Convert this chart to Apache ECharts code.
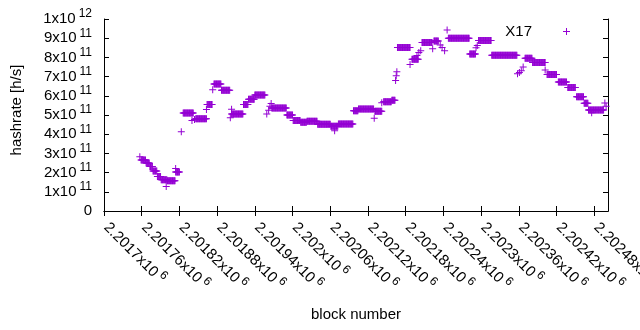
<!DOCTYPE html>
<html>
<head>
<meta charset="utf-8">
<script src="https://cdn.jsdelivr.net/npm/echarts@6/dist/echarts.min.js"></script>
<style>
html, body { margin: 0; padding: 0; background: #fff; }
#main { width: 640px; height: 330px; }
</style>
</head>
<body>
<div id="main"></div>
<script>
// runs of consecutive blocks that share one hashrate value (in 1e11 h/s)
var runFrom = [2201759, 2201767, 2201773, 2201778, 2201785, 2201791, 2201801, 2201814, 2201826, 2201846,
    2201864, 2201875, 2201887, 2201903, 2201922, 2201930, 2201940, 2201967, 2201991, 2202001,
    2202013, 2202023, 2202040, 2202061, 2202073, 2202097, 2202105, 2202131, 2202145, 2202158,
    2202167, 2202190, 2202206, 2202225, 2202248, 2202282, 2202296, 2202317, 2202370, 2202382,
    2202405, 2202423, 2202438, 2202452, 2202464, 2202471];
var runTo = [2201766, 2201772, 2201777, 2201784, 2201790, 2201800, 2201813, 2201820, 2201842, 2201863,
    2201872, 2201886, 2201900, 2201921, 2201929, 2201939, 2201956, 2201990, 2202000, 2202012,
    2202022, 2202039, 2202060, 2202072, 2202096, 2202104, 2202129, 2202142, 2202157, 2202163,
    2202187, 2202200, 2202222, 2202232, 2202281, 2202291, 2202316, 2202357, 2202381, 2202402,
    2202420, 2202436, 2202450, 2202463, 2202470, 2202495];
var runRate = [2.66, 2.50, 2.32, 2.08, 1.80, 1.63, 1.57, 2.03, 5.10, 4.80,
    5.55, 6.61, 6.29, 5.05, 5.55, 5.82, 6.04, 5.36, 5.00, 4.72,
    4.62, 4.68, 4.52, 4.42, 4.53, 5.22, 5.31, 5.19, 5.69, 5.77,
    8.52, 7.90, 8.77, 8.85, 9.00, 8.18, 8.88, 8.11, 7.95, 7.74,
    7.11, 6.72, 6.43, 5.95, 5.61, 5.26];

// single outlying blocks
var dotBlock = [2201757, 2201799, 2201814, 2201823, 2201840, 2201844, 2201863, 2201873, 2201901, 2201903,
    2201959, 2201962, 2201964, 2201966, 2202067, 2202130, 2202142, 2202164, 2202165, 2202166,
    2202187, 2202198, 2202201, 2202204, 2202223, 2202235, 2202238, 2202242, 2202246, 2202292,
    2202294, 2202358, 2202361, 2202364, 2202367, 2202402, 2202476, 2202497, 2202499];
var dotRate = [2.83, 1.27, 2.22, 4.13, 4.72, 4.76, 5.28, 6.32, 4.86, 5.30,
    5.05, 5.25, 5.45, 5.60, 4.18, 4.83, 5.64, 6.80, 7.05, 7.25,
    7.63, 8.10, 8.25, 8.35, 8.45, 8.65, 8.52, 8.35, 9.43, 8.50,
    8.62, 7.15, 7.22, 7.30, 7.50, 7.34, 5.12, 5.62, 5.45];

// tick positions
var xTicks = [2201700, 2201760, 2201820, 2201880, 2201940, 2202000, 2202060,
    2202120, 2202180, 2202240, 2202300, 2202360, 2202420, 2202480];
var yTicks = [0, 1e11, 2e11, 3e11, 4e11, 5e11, 6e11, 7e11, 8e11, 9e11, 1e12];

var UNIT = 1e11;
var xMin = 2201700, xMax = 2202502;
var yMin = 0, yMax = 1e12;

var points = [];
for (var i = 0; i < runFrom.length; i++) {
    for (var b = runFrom[i]; b <= runTo[i]; b++) {
        points.push([b, runRate[i] * UNIT]);
    }
}
for (var j = 0; j < dotBlock.length; j++) {
    points.push([dotBlock[j], dotRate[j] * UNIT]);
}

var FONT = 'Liberation Sans';
var rich = {
    b: { fontFamily: FONT, fontSize: 15, color: '#000', lineHeight: 22 },
    s: { fontFamily: FONT, fontSize: 12, color: '#000', lineHeight: 13, verticalAlign: 'top', padding: [0, 0, 0, 3] }
};

function yLabel(v) {
    if (v === 0) return '{b|0}';
    var e = Math.floor(Math.log10(v) + 1e-9);
    var m = Math.round(v / Math.pow(10, e));
    return '{b|' + m + 'x10}{s|' + e + '}';
}
function xLabel(v) {
    return '{b|' + (+(v / 1e6).toFixed(5)) + 'x10}{s|6}';
}

var plus = 'path://M3,0H4V3H7V4H4V7H3V4H0V3H3Z';
var tick = { show: true, inside: true, length: 5, lineStyle: { color: '#000' } };
var line = { show: true, lineStyle: { color: '#000', width: 1 } };

var chart = echarts.init(document.getElementById('main'));
chart.setOption({
    animation: false,
    backgroundColor: '#fff',
    grid: { left: 104, right: 32, top: 19, bottom: 119, containLabel: false, outerBoundsMode: 'none' },
    legend: {
        data: ['X17'],
        right: 70,
        top: 24,
        padding: 0,
        align: 'right',
        itemWidth: 7,
        itemHeight: 7,
        icon: plus,
        textStyle: { fontFamily: FONT, fontSize: 15, color: '#000', padding: [0, 26, 0, 0] }
    },
    xAxis: [{
        type: 'value',
        min: xMin, max: xMax,
        name: 'block number',
        nameLocation: 'middle',
        nameGap: 96,
        nameTextStyle: { fontFamily: FONT, fontSize: 15, color: '#000' },
        axisLine: line,
        axisTick: Object.assign({ customValues: xTicks }, tick),
        axisLabel: { rotate: -45, margin: 12, padding: [0, 0, 0, 3], customValues: xTicks, formatter: xLabel, rich: rich },
        splitLine: { show: false }
    }, {
        type: 'value', position: 'top',
        min: xMin, max: xMax,
        axisLine: line,
        axisTick: Object.assign({ customValues: xTicks }, tick),
        axisLabel: { show: false },
        splitLine: { show: false }
    }],
    yAxis: [{
        type: 'value',
        min: yMin, max: yMax,
        name: 'hashrate [h/s]',
        nameLocation: 'middle',
        nameRotate: 90,
        nameGap: 80,
        nameTextStyle: { fontFamily: FONT, fontSize: 15, color: '#000', padding: [0, 0, 0, 10] },
        axisLine: line,
        axisTick: Object.assign({ customValues: yTicks }, tick),
        axisLabel: { margin: 12, customValues: yTicks, formatter: yLabel, rich: rich },
        splitLine: { show: false }
    }, {
        type: 'value', position: 'right',
        min: yMin, max: yMax,
        axisLine: line,
        axisTick: Object.assign({ customValues: yTicks }, tick),
        axisLabel: { show: false },
        splitLine: { show: false }
    }],
    series: [{
        name: 'X17',
        type: 'scatter',
        xAxisIndex: 0,
        yAxisIndex: 0,
        symbol: plus,
        symbolSize: 7,
        itemStyle: { color: '#9400D3', opacity: 1 },
        silent: true,
        data: points
    }]
});
</script>
</body>
</html>
